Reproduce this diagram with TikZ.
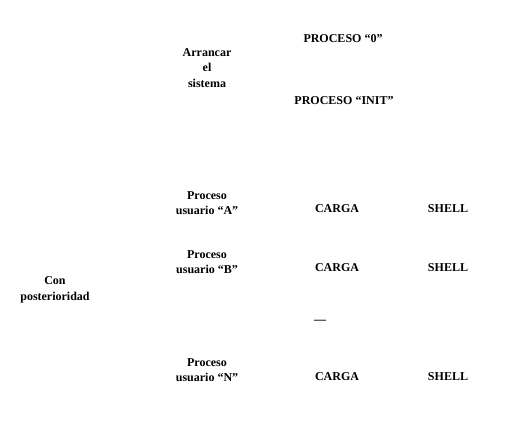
\documentclass[tikz,border=0pt]{standalone}
\usepackage{fontspec}
\setmainfont{Liberation Serif}
\usetikzlibrary{positioning}

\tikzset{
  etiq/.style={font=\fontsize{12}{15.5}\selectfont\bfseries,align=center,inner sep=0pt},
}

\begin{document}
\begin{tikzpicture}[x=1pt,y=-1pt]
\useasboundingbox (0,0) rectangle (510,425);

\node[etiq] (p0) at (343,39) {PROCESO ``0''};
\node[etiq] (arrancar) at (207,68) {Arrancar\\el\\sistema};
\node[etiq] (init) at (344,101) {PROCESO ``INIT''};

% procesos de usuario
\node[etiq] (usrA) at (207,203) {Proceso\\usuario ``A''};
\node[etiq] (cargaA) at (337,209) {CARGA};
\node[etiq] (shellA) at (448,209) {SHELL};

\node[etiq] (usrB) at (207,262) {Proceso\\usuario ``B''};
\node[etiq] (cargaB) at (337,268) {CARGA};
\node[etiq] (shellB) at (448,268) {SHELL};

\node[etiq] (post) at (55,290) {Con\\posterioridad};
\node[etiq] (guion) at (320,322) {---};

\node[etiq] (usrN) at (207,370) {Proceso\\usuario ``N''};
\node[etiq] (cargaN) at (337,377) {CARGA};
\node[etiq] (shellN) at (448,377) {SHELL};
\end{tikzpicture}
\end{document}
